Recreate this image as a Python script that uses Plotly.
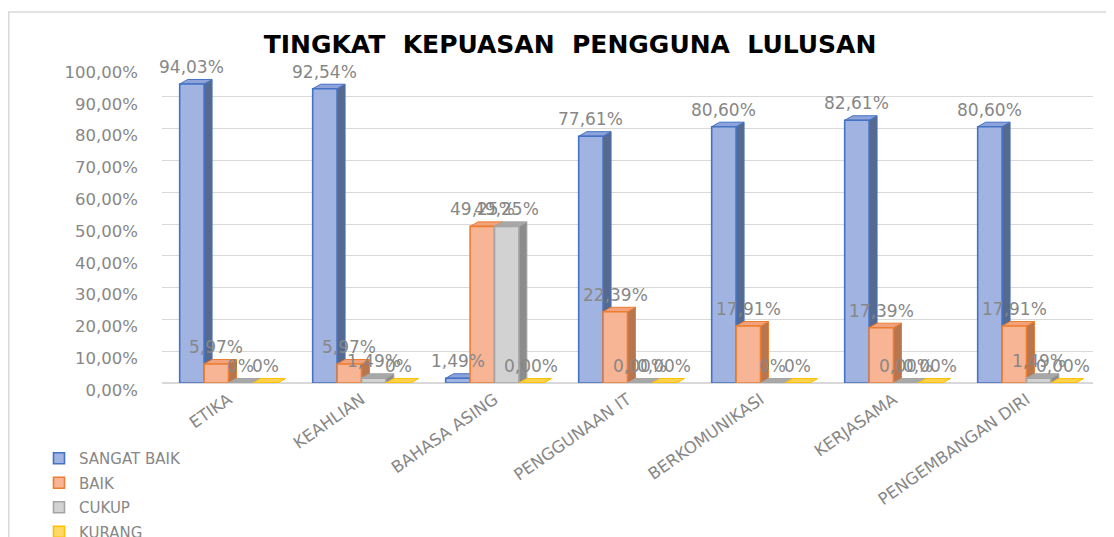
import plotly.graph_objects as go

# ---------------- data ----------------
categories = ["ETIKA", "KEAHLIAN", "BAHASA ASING", "PENGGUNAAN IT",
              "BERKOMUNIKASI", "KERJASAMA", "PENGEMBANGAN DIRI"]
series_names = ["SANGAT BAIK", "BAIK", "CUKUP", "KURANG"]

sangat_baik = [94.03, 92.54, 1.49, 77.61, 80.60, 82.61, 80.60]
baik = [5.97, 5.97, 49.25, 22.39, 17.91, 17.39, 17.91]
cukup = [0.00, 1.49, 49.25, 0.00, 0.00, 0.00, 1.49]
kurang = [0.00, 0.00, 0.00, 0.00, 0.00, 0.00, 0.00]

sangat_baik_labels = ["94,03%", "92,54%", "1,49%", "77,61%", "80,60%", "82,61%", "80,60%"]
baik_labels = ["5,97%", "5,97%", "49,25%", "22,39%", "17,91%", "17,39%", "17,91%"]
cukup_labels = ["0%", "1,49%", "49,25%", "0,00%", "0%", "0,00%", "1,49%"]
kurang_labels = ["0%", "0%", "0,00%", "0,00%", "0%", "0,00%", "0,00%"]

values = [sangat_baik, baik, cukup, kurang]
labels = [sangat_baik_labels, baik_labels, cukup_labels, kurang_labels]

# ---------------- style ----------------
front_colors = ["#a1b3e1", "#f7b595", "#d2d2d2", "#ffd966"]
side_colors = ["#56698f", "#b8764f", "#8c8c8c", "#b38a12"]
top_colors = ["#8ea3da", "#f0a37c", "#a8a8a8", "#ffd24d"]
border_colors = ["#4472c4", "#ed7d31", "#a5a5a5", "#ffc000"]
TEXT_GRAY = "#878787"
FONT = "DejaVu Sans"

W = 0.1835   # bar width (category units)
DX = 0.06    # depth in x (category units)
DY = 1.42    # depth in y (value units)

# the page body has an 8px margin: the figure is laid out in its own coords
OFF = 8
W_PX, H_PX = 1114 - OFF, 537 - OFF
ML, MR, MT, MB = 162 - OFF, 21, 65 - OFF, 154
PW = W_PX - ML - MR
PH = H_PX - MT - MB


def px_to_paper_x(page_px):
    return (page_px - OFF - ML) / PW


def px_to_paper_y(page_py):
    return (H_PX - MB - (page_py - OFF)) / PH


fig = go.Figure()

for s, vals in enumerate(values):
    fx, fy, sx, sy, tx, ty = [], [], [], [], [], []
    for i, v in enumerate(vals):
        x0 = i - 2 * W + s * W
        x1 = x0 + W
        fx += [x0, x1, x1, x0, x0, None]
        fy += [0, 0, v, v, 0, None]
        sx += [x1, x1 + DX, x1 + DX, x1, x1, None]
        sy += [0, DY, v + DY, v, 0, None]
        tx += [x0, x1, x1 + DX, x0 + DX, x0, None]
        ty += [v, v, v + DY, v + DY, v, None]
    for xs, ys, col, lw in [(sx, sy, side_colors[s], 1),
                            (tx, ty, top_colors[s], 1),
                            (fx, fy, front_colors[s], 1.6)]:
        fig.add_trace(go.Scatter(
            x=xs, y=ys, mode="lines", fill="toself", fillcolor=col,
            line=dict(color=border_colors[s], width=lw),
            hoverinfo="skip", showlegend=False, cliponaxis=False))

# legend entries
for s, name in enumerate(series_names):
    fig.add_trace(go.Scatter(
        x=[None], y=[None], mode="markers", name=name,
        legendgroup=name,
        marker=dict(symbol="square", size=11, color=front_colors[s],
                    line=dict(color=border_colors[s], width=1.6))))

# value labels
annotations = []
for s, vals in enumerate(values):
    for i, v in enumerate(vals):
        xc = i - 2 * W + s * W + W / 2
        annotations.append(dict(
            x=xc, y=v, xref="x", yref="y", text=labels[s][i],
            showarrow=False, yshift=17, xanchor="center", yanchor="middle",
            font=dict(family=FONT, size=17, color=TEXT_GRAY)))

shapes = [
    dict(type="line", xref="paper", yref="paper", layer="below",
         x0=px_to_paper_x(OFF + 0.8), x1=px_to_paper_x(OFF + 0.8),
         y0=px_to_paper_y(12), y1=px_to_paper_y(560),
         line=dict(color="#d9d9d9", width=1.5)),
    dict(type="line", xref="paper", yref="paper", layer="below",
         x0=px_to_paper_x(OFF), x1=px_to_paper_x(1120),
         y0=px_to_paper_y(12), y1=px_to_paper_y(12),
         line=dict(color="#d9d9d9", width=1.5)),
]

fig.update_layout(
    width=W_PX, height=H_PX,
    margin=dict(l=ML, r=MR, t=MT, b=MB, autoexpand=False),
    paper_bgcolor="white", plot_bgcolor="white",
    separators=",.",
    title=dict(text="<b>TINGKAT \u00a0KEPUASAN \u00a0PENGGUNA \u00a0LULUSAN</b>",
               x=(570 - OFF) / W_PX, xanchor="center", xref="container",
               y=1 - (44 - OFF) / H_PX, yanchor="middle", yref="container",
               font=dict(family="DejaVu Sans", size=25, color="black")),
    xaxis=dict(range=[-0.5, 6.5], tickvals=list(range(len(categories))),
               ticktext=categories, tickangle=-35, showgrid=False,
               zeroline=False, showline=False, ticks="",
               ticklabelstandoff=3, automargin=False,
               tickfont=dict(family=FONT, size=16.5, color=TEXT_GRAY)),
    yaxis=dict(range=[0, 100], tick0=0, dtick=10, tickformat=".2f",
               ticksuffix="%", showgrid=True, gridcolor="#d9d9d9",
               gridwidth=1.2, zeroline=True, zerolinecolor="#d9d9d9",
               showline=False, ticks="", ticklabelstandoff=23,
               ticklabelshift=7, automargin=False,
               tickfont=dict(family=FONT, size=16.5, color=TEXT_GRAY)),
    legend=dict(orientation="v", x=px_to_paper_x(39), xanchor="left",
                y=px_to_paper_y(442), yanchor="top",
                bgcolor="rgba(0,0,0,0)", tracegroupgap=2,
                font=dict(family=FONT, size=15, color=TEXT_GRAY)),
    annotations=annotations,
    shapes=shapes,
)

fig.write_html("out.html")
